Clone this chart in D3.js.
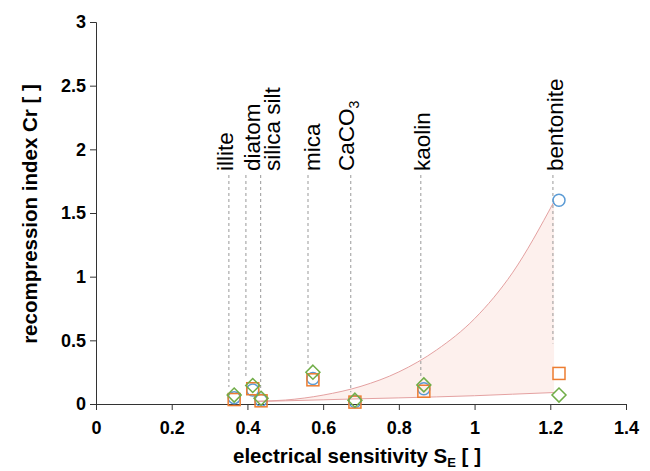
<!DOCTYPE html>
<html>
<head>
<meta charset="utf-8">
<script src="https://cdn.jsdelivr.net/npm/d3@7"></script>
<style>
  body { margin: 0; background: #fff; }
</style>
</head>
<body>
<div id="chart"></div>
<script>
// Materials and electrical sensitivity of each sample
var materials = ["illite", "diatom", "silica silt", "mica", "CaCO3", "kaolin", "bentonite"];
var sensitivity = [0.365, 0.414, 0.436, 0.573, 0.684, 0.866, 1.223];

// Recompression index, three test series
var crCircle = [0.05, 0.11, 0.03, 0.20, 0.02, 0.12, 1.60];
var crSquare = [0.035, 0.12, 0.025, 0.19, 0.015, 0.10, 0.24];
var crDiamond = [0.07, 0.145, 0.045, 0.25, 0.03, 0.15, 0.07];

// Annotation: dashed guide position and label position (S_E units)
var guideX = [0.351, 0.396, 0.435, 0.560, 0.673, 0.858, 1.207];
var labelX = [0.362, 0.433, 0.486, 0.592, 0.682, 0.882, 1.233];

// Shaded band boundaries
var bandX = [0.425, 0.5, 0.6, 0.7, 0.8, 0.9, 1.0, 1.1, 1.21];
var bandUpper = [0.022, 0.031, 0.07, 0.139, 0.252, 0.425, 0.67, 1.03, 1.59];
var bandLower = [0.02, 0.025, 0.033, 0.041, 0.048, 0.056, 0.065, 0.077, 0.09];

// Axis ticks
var xTicks = [0, 0.2, 0.4, 0.6, 0.8, 1, 1.2, 1.4];
var yTicks = [0, 0.5, 1, 1.5, 2, 2.5, 3];

var margin = {top: 22, bottom: 67, left: 96, right: 24},
    width = 650 - margin.left - margin.right,
    height = 471 - margin.top - margin.bottom;

var font = "Arial, 'Liberation Sans', sans-serif";

var svg = d3.select("#chart").append("svg")
    .attr("width", 650)
    .attr("height", 471)
    .append("g")
    .attr("transform", `translate(${margin.left},${margin.top})`);

var x = d3.scaleLinear().domain([0, 1.4]).range([0, width]);
var y = d3.scaleLinear().domain([0, 3]).range([height, 0]);

// Shaded band
var band = bandX.map((v, i) => ({x: v, lo: bandLower[i], hi: bandUpper[i]}));

svg.append("path")
    .datum(band)
    .attr("fill", "#fdf0ed")
    .attr("d", d3.area()
        .x(d => x(d.x))
        .y0(d => y(d.lo))
        .y1(d => y(d.hi))
        .curve(d3.curveMonotoneX));

["hi", "lo"].forEach(function(k) {
    svg.append("path")
        .datum(band)
        .attr("fill", "none")
        .attr("stroke", "#e4a1a1")
        .attr("stroke-width", 1)
        .attr("d", d3.line().x(d => x(d.x)).y(d => y(d[k])).curve(d3.curveMonotoneX));
});

// Dashed guides and material labels
var notes = materials.map((m, i) => ({
    name: m,
    gx: guideX[i],
    lx: labelX[i],
    top: Math.max(crCircle[i], crSquare[i], crDiamond[i])
}));

svg.selectAll(".guide")
    .data(notes)
    .join("line")
    .attr("class", "guide")
    .attr("x1", d => x(d.gx))
    .attr("x2", d => x(d.gx))
    .attr("y1", 153)
    .attr("y2", d => d.name == "bentonite" ? y(crSquare[6]) - 30 : y(d.top) - 8)
    .attr("stroke", "#999")
    .attr("stroke-width", 1)
    .attr("stroke-dasharray", "3,3");

var labels = svg.selectAll(".mlabel")
    .data(notes)
    .join("text")
    .attr("class", "mlabel")
    .attr("transform", d => `translate(${x(d.lx)},149)rotate(-90)`)
    .attr("font-family", font)
    .attr("font-size", "22.5px")
    .attr("fill", "#000");

labels.each(function(d) {
    var t = d3.select(this);
    if (d.name == "CaCO3") {
        t.append("tspan").text("CaCO");
        t.append("tspan").attr("font-size", "14px").attr("dy", 5).text("3");
    } else {
        t.text(d.name);
    }
});

// Axes
var xAxis = svg.append("g")
    .attr("transform", `translate(0,${height})`)
    .call(d3.axisBottom(x).tickValues(xTicks).tickSize(6).tickFormat(d3.format("")));

var yAxis = svg.append("g")
    .call(d3.axisLeft(y).tickValues(yTicks).tickSize(6).tickFormat(d3.format("")));

[xAxis, yAxis].forEach(function(a) {
    a.select(".domain").attr("stroke", "#333");
    a.selectAll(".tick line").attr("stroke", "#333");
    a.selectAll("text")
        .attr("font-family", font)
        .attr("font-size", "18px")
        .attr("font-weight", "bold")
        .attr("fill", "#000");
});
xAxis.selectAll("text").attr("dy", "1.15em");
yAxis.selectAll("text").attr("x", -10);

// Markers
function px(i) { return x(sensitivity[i]); }

svg.selectAll(".mcircle")
    .data(crCircle)
    .join("circle")
    .attr("class", "mcircle")
    .attr("cx", (d, i) => px(i))
    .attr("cy", d => y(d))
    .attr("r", 6)
    .attr("fill", "none")
    .attr("stroke", "#5b9bd5")
    .attr("stroke-width", 1.5);

svg.selectAll(".msquare")
    .data(crSquare)
    .join("rect")
    .attr("class", "msquare")
    .attr("x", (d, i) => px(i) - 6)
    .attr("y", d => y(d) - 6)
    .attr("width", 12)
    .attr("height", 12)
    .attr("fill", "none")
    .attr("stroke", "#ed7d31")
    .attr("stroke-width", 1.5);

svg.selectAll(".mdiamond")
    .data(crDiamond)
    .join("path")
    .attr("class", "mdiamond")
    .attr("transform", (d, i) => `translate(${px(i)},${y(d)})`)
    .attr("d", "M0,-7L7,0L0,7L-7,0Z")
    .attr("fill", "none")
    .attr("stroke", "#70ad47")
    .attr("stroke-width", 1.5);

// Axis titles
svg.append("text")
    .attr("x", width / 2 - 4)
    .attr("y", height + 59)
    .attr("text-anchor", "middle")
    .attr("font-family", font)
    .attr("font-size", "20.5px")
    .attr("font-weight", "bold")
    .call(t => {
        t.append("tspan").text("electrical sensitivity S");
        t.append("tspan").attr("font-size", "13px").attr("dy", 4).text("E");
        t.append("tspan").attr("dy", -4).text(" [ ]");
    });

svg.append("text")
    .attr("transform", `translate(-59,${height / 2 + 1})rotate(-90)`)
    .attr("text-anchor", "middle")
    .attr("font-family", font)
    .attr("font-size", "20.5px")
    .attr("font-weight", "bold")
    .text("recompression index Cr [ ]");
</script>
</body>
</html>
